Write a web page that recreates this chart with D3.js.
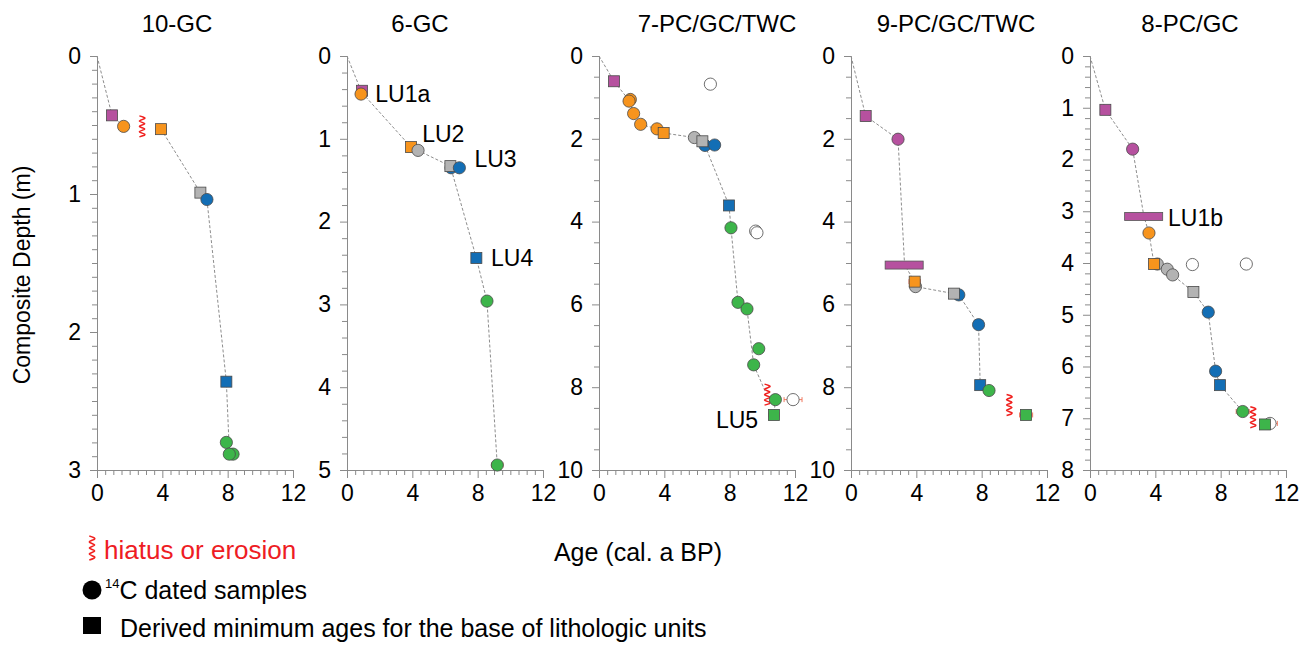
<!DOCTYPE html>
<html>
<head>
<meta charset="utf-8">
<script src="https://cdn.jsdelivr.net/npm/d3@7/dist/d3.min.js"></script>
<style>
  html, body { margin: 0; padding: 0; background: #fff; }
  svg { display: block; font-family: "Liberation Sans", Arial, Helvetica, sans-serif; }
</style>
</head>
<body>
<svg id="chart" width="1316" height="646"></svg>
<script>
// ---------------- DATA ----------------
const coreNames = ["10-GC", "6-GC", "7-PC/GC/TWC", "9-PC/GC/TWC", "8-PC/GC"];
const depthMax = [3, 5, 10, 10, 8];
const depthMajorStep = [1, 1, 2, 2, 1];
const depthMinorStep = [0.1, 0.2, 0.5, 0.5, 0.2];
const ageTickLabels = [0, 4, 8, 12];
const ageMinorStep = 0.5;
const ageMax = 12;

// unit colour keys: LU1 purple, LU2 orange, LU3 gray, LU4 blue, LU5 green, open = rejected
// sample rows: [age (ka), depth (m), unit, shape ("c" circle / "s" square), age error]
const samples10GC = [
  [0.92, 0.43, "LU1", "s", 0],
  [1.63, 0.51, "LU2", "c", 0.15],
  [3.92, 0.53, "LU2", "s", 0.3],
  [6.33, 0.99, "LU3", "s", 0],
  [6.73, 1.04, "LU4", "c", 0.2],
  [7.92, 2.36, "LU4", "s", 0],
  [7.92, 2.80, "LU5", "c", 0.1],
  [8.33, 2.885, "LU5", "c", 0.25],
  [8.10, 2.885, "LU5", "c", 0.2]
];
const samples6GC = [
  [0.92, 0.42, "LU1", "s", 0],
  [0.86, 0.46, "LU2", "c", 0.1],
  [3.92, 1.10, "LU2", "s", 0.25],
  [4.35, 1.14, "LU3", "c", 0.3],
  [6.37, 1.35, "LU4", "c", 0.25],
  [6.33, 1.33, "LU3", "s", 0],
  [6.88, 1.35, "LU4", "c", 0.1],
  [7.92, 2.44, "LU4", "s", 0],
  [8.57, 2.96, "LU5", "c", 0.25],
  [9.20, 4.94, "LU5", "c", 0.35]
];
const samples7PC = [
  [0.92, 0.61, "LU1", "s", 0],
  [6.82, 0.68, "open", "c", 0.2],
  [1.92, 1.05, "LU2", "c", 0.1],
  [1.84, 1.09, "LU2", "c", 0.15],
  [2.12, 1.39, "LU2", "c", 0.1],
  [2.55, 1.65, "LU2", "c", 0.1],
  [3.55, 1.76, "LU2", "c", 0.2],
  [3.96, 1.86, "LU2", "s", 0.25],
  [5.84, 1.97, "LU3", "c", 0.1],
  [6.49, 2.16, "LU4", "c", 0.1],
  [6.33, 2.06, "LU3", "s", 0],
  [7.08, 2.15, "LU4", "c", 0.1],
  [7.96, 3.61, "LU4", "s", 0],
  [8.08, 4.15, "LU5", "c", 0.25],
  [9.59, 4.23, "open", "c", 0.2],
  [9.67, 4.27, "open", "c", 0.25],
  [8.51, 5.95, "LU5", "c", 0.3],
  [9.06, 6.11, "LU5", "c", 0.3],
  [9.78, 7.07, "LU5", "c", 0.25],
  [9.47, 7.46, "LU5", "c", 0.25],
  [10.80, 8.30, "LU5", "c", 0.3],
  [11.88, 8.30, "open", "c", 0.55],
  [10.71, 8.67, "LU5", "s", 0.3]
];
const samples9PC = [
  [0.90, 1.45, "LU1", "s", 0],
  [2.88, 2.01, "LU1", "c", 0.25],
  [3.95, 5.57, "LU3", "c", 0.2],
  [3.90, 5.45, "LU2", "s", 0.35],
  [6.60, 5.77, "LU4", "c", 0.2],
  [6.30, 5.74, "LU3", "s", 0],
  [7.81, 6.49, "LU4", "c", 0.1],
  [7.91, 7.95, "LU4", "s", 0],
  [8.45, 8.08, "LU5", "c", 0.3],
  [10.72, 8.67, "LU5", "s", 0.4]
];
const samples8PC = [
  [0.94, 1.04, "LU1", "s", 0],
  [2.61, 1.80, "LU1", "c", 0.3],
  [3.61, 3.42, "LU2", "c", 0.3],
  [4.12, 4.02, "LU3", "c", 0.1],
  [3.92, 4.02, "LU2", "s", 0.3],
  [6.27, 4.03, "open", "c", 0.25],
  [9.57, 4.02, "open", "c", 0.3],
  [4.73, 4.12, "LU3", "c", 0.15],
  [5.06, 4.23, "LU3", "c", 0.3],
  [6.33, 4.56, "LU3", "s", 0],
  [7.24, 4.95, "LU4", "c", 0.25],
  [7.69, 6.09, "LU4", "c", 0.1],
  [7.96, 6.36, "LU4", "s", 0],
  [9.35, 6.87, "LU5", "c", 0.4],
  [11.02, 7.10, "open", "c", 0.45],
  [10.71, 7.12, "LU5", "s", 0.1]
];
const samplesByCore = [samples10GC, samples6GC, samples7PC, samples9PC, samples8PC];

// age-depth model segments (dashed connector), split at hiatuses
const model10GC = [[[0, 0], [0.92, 0.43], [1.63, 0.51]],
                   [[3.92, 0.53], [6.33, 0.99], [6.73, 1.04], [7.92, 2.36], [8.10, 2.86]]];
const model6GC = [[[0, 0], [0.90, 0.44], [3.92, 1.10], [6.33, 1.33], [7.92, 2.44], [8.57, 2.96], [9.20, 4.94]]];
const model7PC = [[[0, 0], [0.92, 0.61], [1.86, 1.08], [2.12, 1.39], [2.55, 1.65], [3.55, 1.76], [3.96, 1.86],
                   [5.84, 1.97], [6.33, 2.06], [6.55, 2.22], [7.96, 3.61], [8.08, 4.15], [8.51, 5.95],
                   [9.06, 6.11], [9.47, 7.46], [10.2, 8.12]],
                  [[10.80, 8.30], [10.71, 8.67]]];
const model9PC = [[[0, 0], [0.90, 1.45], [2.88, 2.01], [3.28, 5.05], [3.90, 5.45], [3.95, 5.57], [6.30, 5.74],
                   [6.60, 5.77], [7.81, 6.49], [7.91, 7.95], [8.45, 8.08]]];
const model8PC = [[[0, 0], [0.94, 1.04], [2.61, 1.80], [3.30, 3.10], [3.61, 3.42], [3.92, 4.02], [4.73, 4.12],
                   [5.06, 4.23], [6.33, 4.56], [7.24, 4.95], [7.69, 6.09], [7.96, 6.36], [9.35, 6.87]]];
const modelByCore = [model10GC, model6GC, model7PC, model9PC, model8PC];

// hiatus / erosion markers: [age, depth]
const hiatusByCore = [[[2.76, 0.51]], [], [[10.30, 8.18]], [[9.69, 8.43]], [[9.98, 6.98]]];

// LU1 age ranges (bars): [age min, age max, depth]
const barsByCore = [[], [], [], [[2.09, 4.42, 5.05]], [[2.12, 4.45, 3.10]]];

// lithologic unit labels: [text, age, depth, anchor]
const unitLabelsByCore = [
  [],
  [["LU1a", 1.73, 0.55, "start"], ["LU2", 4.6, 1.035, "start"], ["LU3", 7.8, 1.345, "start"], ["LU4", 8.82, 2.54, "start"]],
  [["LU5", 9.74, 8.98, "end"]],
  [],
  [["LU1b", 4.78, 3.28, "start"]]
];

const unitColors = { LU1: "#b6519f", LU2: "#f7941d", LU3: "#b3b3b3", LU4: "#136eb5", LU5: "#3db54a", open: "#ffffff" };

// ---------------- LAYOUT ----------------
const layout = {
  panelLeft: [97, 347, 599, 851, 1090],
  panelWidth: 196,
  top: 56,
  bottom: 470,
  titleX: [177, 420, 717, 956, 1190],
  titleY: 32
};

const svg = d3.select("#chart");
const axisColor = "#8a8a8a";
const font = 23;

function wavyPath(cx, cy, h) {
  const n = 8, pts = [];
  for (let i = 0; i <= n; i++) pts.push([cx + (i % 2 ? 2.7 : -2.7), cy - h / 2 + i * h / n]);
  return d3.line().curve(d3.curveNatural)(pts);
}

coreNames.forEach((name, k) => {
  const x0 = layout.panelLeft[k];
  const x = d3.scaleLinear().domain([0, ageMax]).range([x0, x0 + layout.panelWidth]);
  const y = d3.scaleLinear().domain([0, depthMax[k]]).range([layout.top, layout.bottom]);
  const g = svg.append("g");

  // title
  g.append("text").attr("x", layout.titleX[k]).attr("y", layout.titleY)
    .attr("text-anchor", "middle").attr("font-size", 24).attr("fill", "#000").text(name);

  // y axis
  const yMinor = d3.range(0, depthMax[k] + 1e-9, depthMinorStep[k]).map(v => +v.toFixed(3));
  const isMajorY = v => Math.abs(v / depthMajorStep[k] - Math.round(v / depthMajorStep[k])) < 1e-6;
  const yAx = g.append("g").attr("transform", `translate(${x0},0)`)
    .call(d3.axisLeft(y).tickValues(yMinor).tickSizeOuter(0).tickSize(5).tickPadding(9)
      .tickFormat(v => isMajorY(v) ? d3.format("d")(v) : ""));
  yAx.selectAll(".tick line").attr("x2", d => isMajorY(d) ? -7 : -5);
  yAx.selectAll(".tick text").attr("x", -16).attr("font-size", font).attr("fill", "#000");
  yAx.selectAll("line, path").attr("stroke", axisColor);

  // x axis
  const xMinor = d3.range(0, ageMax + 1e-9, ageMinorStep);
  const isMajorX = v => ageTickLabels.includes(v);
  const xAx = g.append("g").attr("transform", `translate(0,${layout.bottom})`)
    .call(d3.axisBottom(x).tickValues(xMinor).tickSizeOuter(0).tickSize(5).tickPadding(10)
      .tickFormat(v => isMajorX(v) ? v : ""));
  xAx.selectAll(".tick line").attr("y2", d => isMajorX(d) ? 8 : 5);
  xAx.selectAll(".tick text").attr("y", 15).attr("font-size", font).attr("fill", "#000");
  xAx.selectAll("line, path").attr("stroke", axisColor);

  // model lines
  const line = d3.line().x(d => x(d[0])).y(d => y(d[1]));
  modelByCore[k].forEach(seg => {
    g.append("path").attr("d", line(seg)).attr("fill", "none")
      .attr("stroke", "#8d8d8d").attr("stroke-width", 1).attr("stroke-dasharray", "3,2");
  });

  // LU1 bars
  barsByCore[k].forEach(b => {
    g.append("rect").attr("x", x(b[0])).attr("y", y(b[2]) - 4).attr("width", x(b[1]) - x(b[0])).attr("height", 8)
      .attr("fill", unitColors.LU1).attr("stroke", "#555").attr("stroke-width", 0.8);
  });

  // hiatus marks
  hiatusByCore[k].forEach(h => {
    g.append("path").attr("d", wavyPath(x(h[0]), y(h[1]), 21)).attr("fill", "none")
      .attr("stroke", "#f0201e").attr("stroke-width", 1.5);
  });

  // error bars
  samplesByCore[k].filter(s => s[4] > 0).forEach(s => {
    const cy = y(s[1]), xa = x(s[0] - s[4]), xb = x(s[0] + s[4]);
    const eb = g.append("g").attr("stroke", "#f07a62").attr("stroke-width", 1);
    eb.append("line").attr("x1", xa).attr("x2", xb).attr("y1", cy).attr("y2", cy);
    eb.append("line").attr("x1", xa).attr("x2", xa).attr("y1", cy - 2.5).attr("y2", cy + 2.5);
    eb.append("line").attr("x1", xb).attr("x2", xb).attr("y1", cy - 2.5).attr("y2", cy + 2.5);
  });

  // markers
  samplesByCore[k].forEach(s => {
    const cx = x(s[0]), cy = y(s[1]);
    if (s[3] === "s") {
      g.append("rect").attr("x", cx - 5.5).attr("y", cy - 5.5).attr("width", 11).attr("height", 11)
        .attr("fill", unitColors[s[2]]).attr("stroke", "#4a4a4a").attr("stroke-width", 0.8);
    } else {
      g.append("circle").attr("cx", cx).attr("cy", cy).attr("r", 6.1)
        .attr("fill", unitColors[s[2]]).attr("stroke", "#4a4a4a").attr("stroke-width", 0.8);
    }
  });

  // unit labels
  unitLabelsByCore[k].forEach(l => {
    g.append("text").attr("x", x(l[1])).attr("y", y(l[2])).attr("text-anchor", l[3])
      .attr("font-size", 23).attr("fill", "#000").text(l[0]);
  });
});

// axis titles
svg.append("text").attr("transform", "translate(30,275) rotate(-90)").attr("text-anchor", "middle")
  .attr("font-size", 23).text("Composite Depth (m)");
svg.append("text").attr("x", 638).attr("y", 561).attr("text-anchor", "middle")
  .attr("font-size", 25).text("Age (cal. a BP)");

// legend
const leg = svg.append("g");
leg.append("path").attr("d", wavyPath(92, 548, 24)).attr("fill", "none").attr("stroke", "#f0201e").attr("stroke-width", 1.5);
leg.append("text").attr("x", 104).attr("y", 559).attr("font-size", 26).attr("fill", "#ee1c24").text("hiatus or erosion");
leg.append("circle").attr("cx", 92).attr("cy", 590).attr("r", 9.5).attr("fill", "#000");
const t2 = leg.append("text").attr("x", 105).attr("y", 599).attr("font-size", 25).attr("fill", "#000");
t2.append("tspan").attr("font-size", 13).attr("dy", -11).text("14");
t2.append("tspan").attr("dy", 11).text("C dated samples");
leg.append("rect").attr("x", 83).attr("y", 617).attr("width", 18).attr("height", 17).attr("fill", "#000");
leg.append("text").attr("x", 120).attr("y", 637).attr("font-size", 25).attr("fill", "#000")
  .text("Derived minimum ages for the base of lithologic units");
</script>
</body>
</html>
